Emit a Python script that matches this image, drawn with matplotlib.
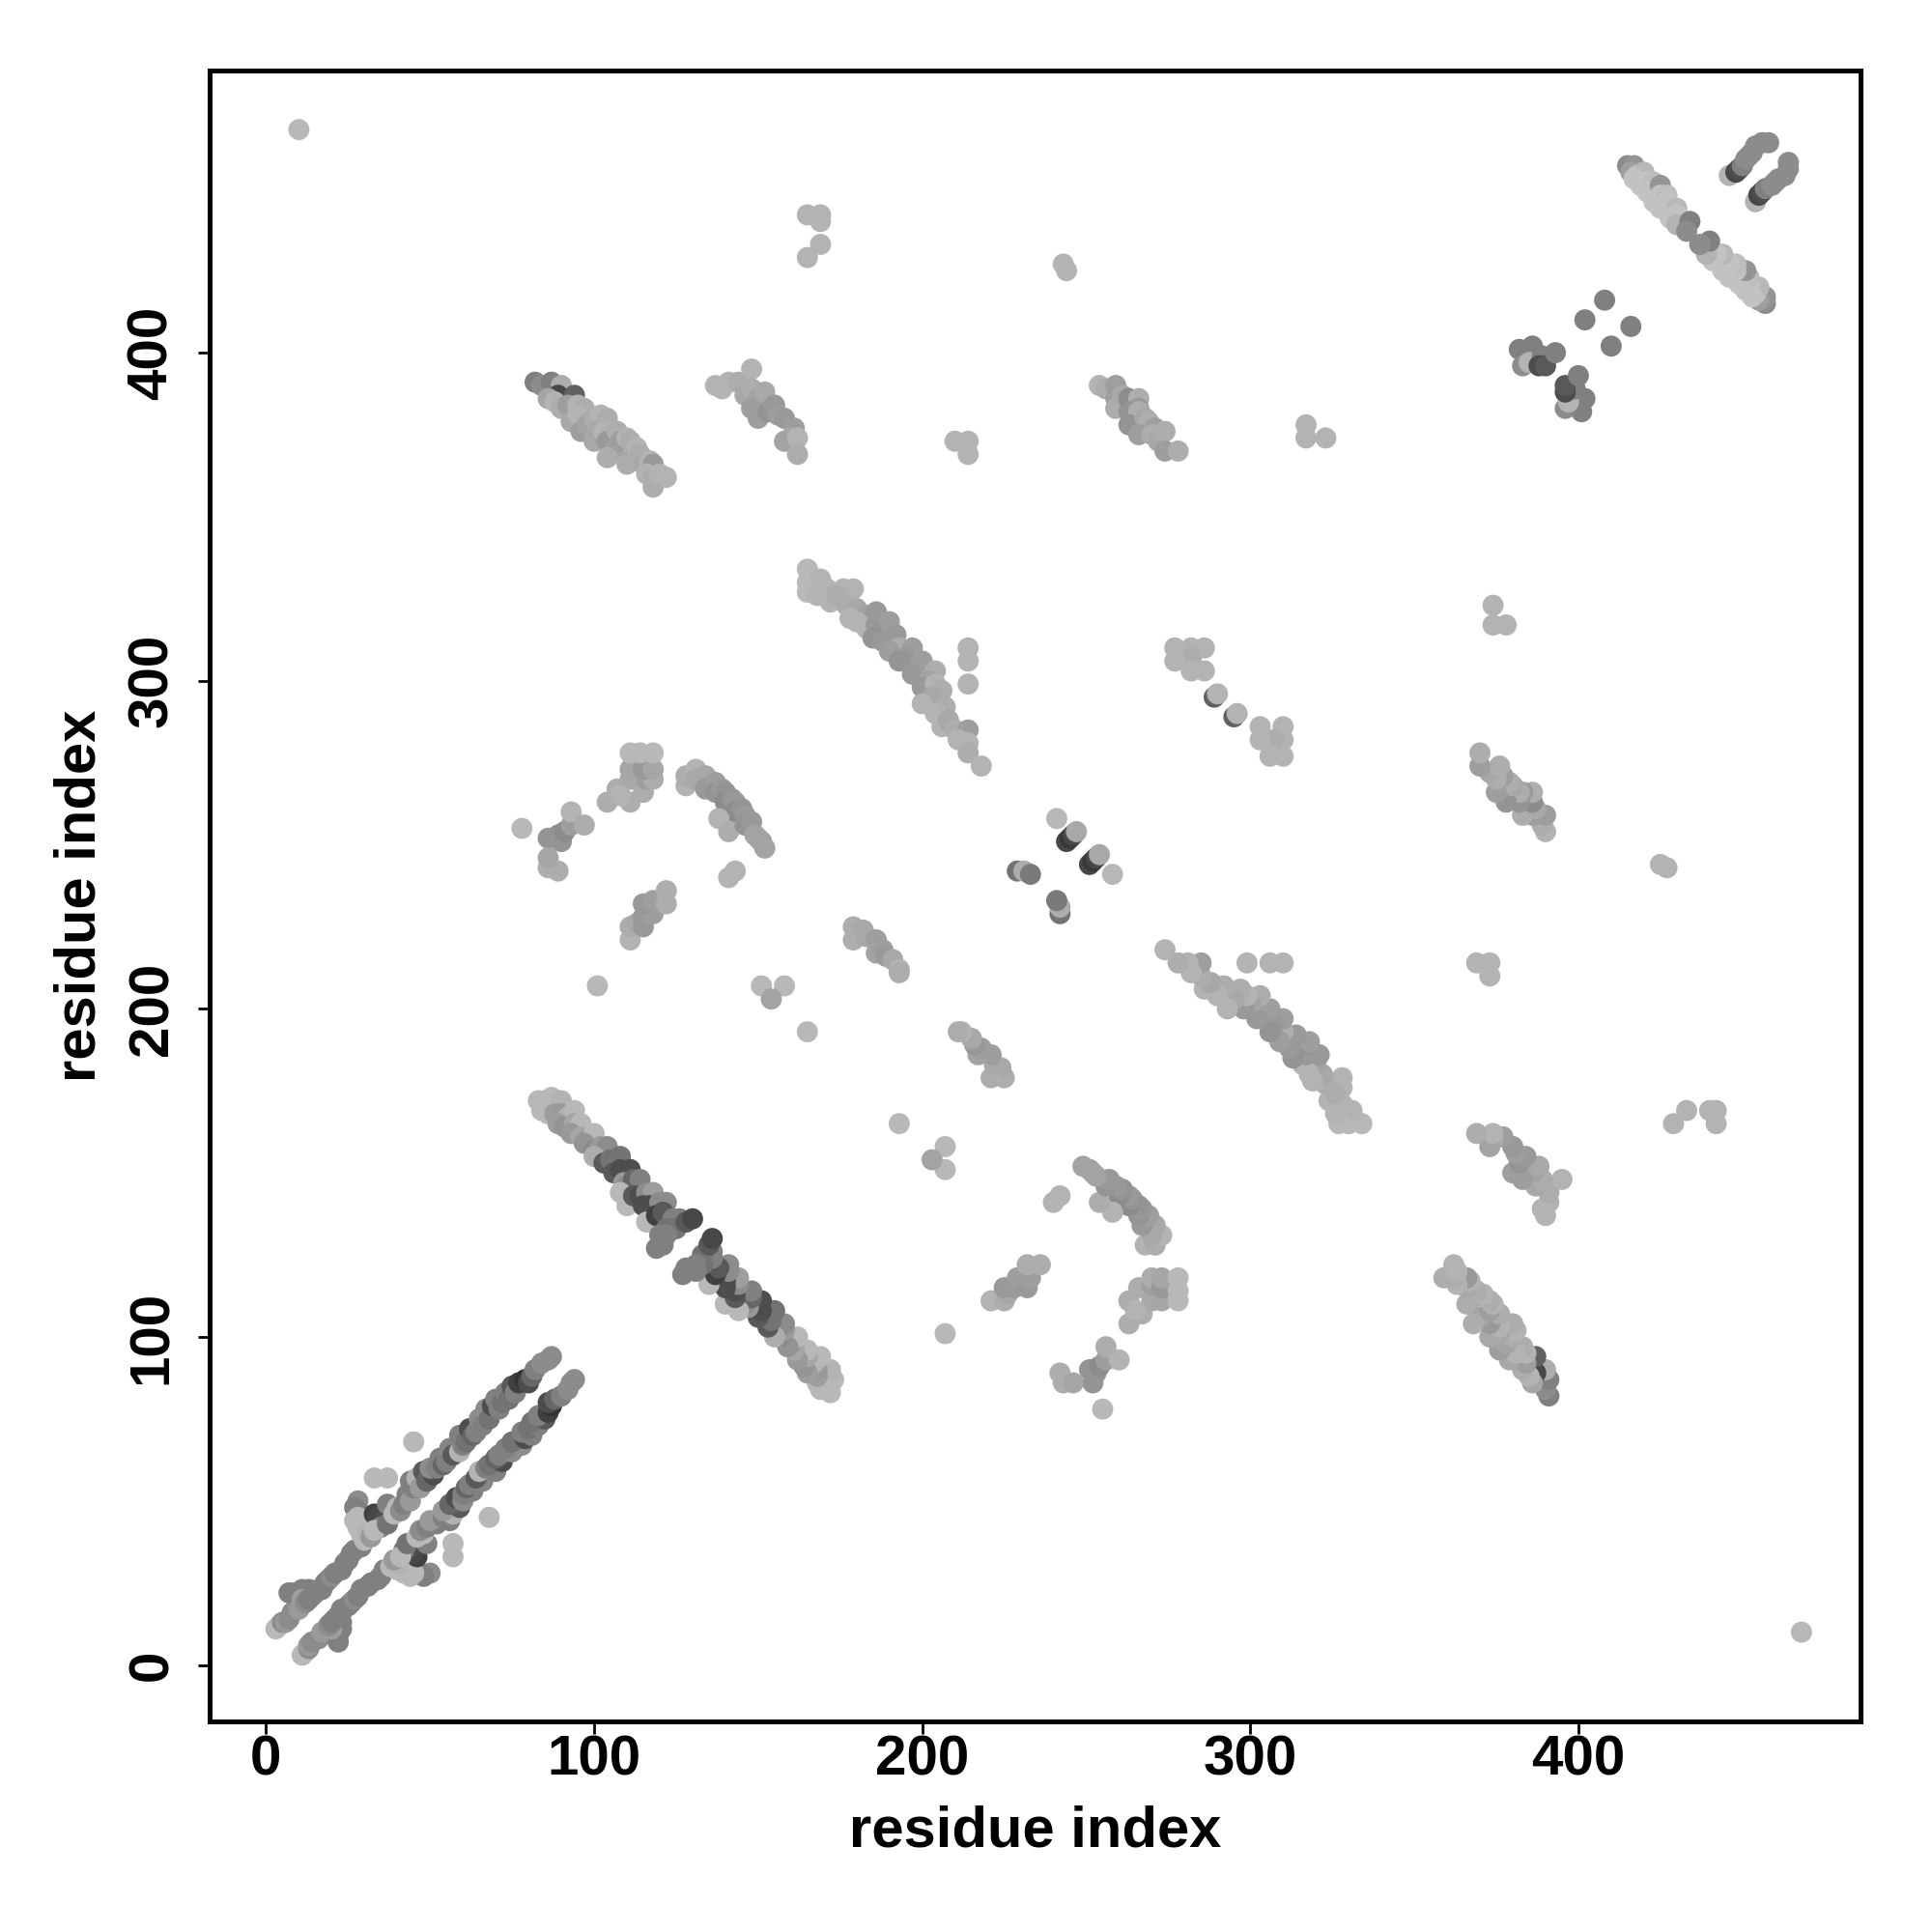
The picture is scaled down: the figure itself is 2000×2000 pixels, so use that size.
import matplotlib
matplotlib.use("Agg")
import matplotlib.pyplot as plt

# contacts as (i, j, grey) with i < j.
# the map is symmetric, so each contact is drawn at (i, j) and at (j, i)
corner = [(10, 468, .72)]

helix_n = [
    (3, 11, .72), (4, 12, .72), (5, 13, .55), (6, 13, .60), (7, 14, .55), (8, 16, .55),
    (9, 17, .55), (10, 17, .60), (7, 22, .50), (9, 22, .50), (11, 23, .50), (13, 23, .50),
    (15, 22, .50), (17, 23, .50), (11, 20, .62), (14, 21, .50), (12, 19, .55), (13, 20, .50),
    (16, 23, .50), (18, 25, .50), (19, 26, .50), (20, 27, .55), (21, 28, .50), (23, 29, .50),
    (24, 31, .50), (25, 32, .50), (26, 34, .50), (27, 35, .50), (29, 36, .50),
    (28, 50, .55), (27, 48, .50), (28, 47, .50), (28, 45, .72), (27, 44, .72), (28, 42, .72),
    (29, 41, .72), (29, 40, .72), (31, 41, .72), (30, 38, .72), (31, 40, .70), (32, 39, .60),
    (33, 46, .25), (34, 45, .28), (36, 44, .30), (35, 42, .50), (33, 41, .72), (37, 43, .45),
    (37, 49, .50), (39, 46, .72), (40, 48, .72), (41, 47, .55), (42, 49, .50), (43, 52, .50),
    (44, 50, .60), (44, 56, .50), (45, 54, .50), (46, 57, .70), (47, 54, .60), (48, 59, .35),
    (49, 56, .40), (51, 58, .30), (50, 60, .55), (52, 60, .50), (53, 63, .50), (54, 61, .40),
    (55, 62, .50), (56, 66, .52), (57, 64, .35), (59, 65, .70), (59, 70, .50), (60, 67, .50),
    (61, 68, .45), (62, 72, .30), (63, 70, .40), (64, 71, .50), (65, 75, .55), (66, 73, .50),
    (67, 78, .55), (68, 75, .45), (69, 79, .30), (70, 81, .50), (71, 78, .50), (72, 80, .45),
    (73, 83, .50), (74, 81, .45), (75, 85, .35), (76, 83, .50), (77, 86, .25), (79, 87, .20),
    (80, 86, .30), (81, 88, .40), (82, 90, .50), (84, 92, .55), (86, 93, .55), (87, 94, .55),
    (33, 57, .72), (37, 57, .72), (45, 68, .72),
]

sheet_127 = [
    (83, 172, .72), (85, 172, .72), (87, 173, .72), (90, 172, .70), (84, 169, .72),
    (86, 168, .72), (88, 168, .62), (90, 168, .60), (92, 167, .70), (94, 169, .72),
    (89, 165, .62), (91, 164, .58), (94, 165, .65), (96, 165, .72), (93, 162, .60),
    (96, 161, .65), (98, 160, .58), (100, 162, .72), (97, 159, .58), (100, 157, .55),
    (102, 158, .60), (104, 158, .55), (100, 155, .68), (103, 153, .35), (105, 154, .45),
    (108, 155, .45), (106, 150, .35), (108, 151, .30), (111, 151, .30), (109, 147, .60),
    (110, 146, .55), (112, 148, .40), (114, 148, .50), (108, 144, .72), (110, 140, .72),
    (112, 143, .35), (114, 143, .30), (116, 144, .55), (118, 144, .62), (115, 140, .30),
    (117, 140, .30), (120, 141, .55), (122, 141, .55), (116, 135, .72), (119, 137, .25),
    (121, 138, .35), (124, 136, .50), (126, 136, .50), (122, 133, .45), (125, 133, .45),
    (120, 131, .50), (122, 131, .50), (119, 127, .50), (121, 128, .50), (128, 135, .35),
    (130, 136, .28),
]

strand_c = [
    (82, 391, .50), (84, 390, .55), (87, 391, .50), (90, 390, .68), (89, 387, .28),
    (94, 387, .38), (86, 386, .65), (88, 385, .70), (90, 383, .68), (92, 384, .62),
    (95, 384, .70), (97, 383, .68), (93, 379, .66), (95, 381, .70), (96, 376, .62),
    (98, 378, .64), (100, 380, .68), (102, 381, .70), (104, 380, .68), (101, 376, .66),
    (100, 373, .66), (103, 376, .70), (104, 373, .60), (107, 376, .68), (106, 370, .64),
    (104, 368, .68), (108, 373, .62), (110, 374, .70), (111, 373, .68), (112, 368, .64),
    (110, 366, .68), (113, 371, .70), (114, 369, .68), (115, 366, .66), (117, 367, .70),
    (118, 366, .60), (116, 363, .70), (118, 362, .68), (118, 359, .68), (120, 363, .70),
    (122, 362, .70),
]

strand_d = [
    (137, 390, .70), (139, 389, .70), (141, 391, .70), (144, 391, .68), (148, 395, .70),
    (146, 387, .66), (148, 389, .68), (150, 386, .64), (148, 383, .62), (150, 380, .62),
    (152, 388, .66), (153, 382, .58), (155, 384, .60), (156, 381, .62), (158, 380, .60),
    (161, 377, .62), (160, 374, .66), (158, 373, .64), (162, 374, .70), (162, 369, .68),
]

strand_g = [
    (254, 390, .70), (256, 389, .68), (259, 390, .62), (259, 386, .62), (259, 383, .68),
    (261, 387, .66), (263, 386, .55), (266, 386, .68), (263, 382, .58), (266, 383, .60),
    (266, 382, .68), (263, 378, .58), (268, 380, .66), (269, 379, .68), (271, 377, .62),
    (266, 375, .62), (270, 375, .68), (272, 373, .66), (274, 376, .68), (274, 370, .62),
    (278, 370, .68),
]

patches = [
    (165, 442, .70), (169, 442, .70), (169, 440, .70), (169, 433, .70), (165, 429, .70),
    (243, 427, .70), (244, 425, .70),
    (317, 378, .70), (317, 374, .70), (323, 374, .70),
    (210, 373, .70), (214, 373, .70), (214, 369, .70),
    (101, 207, .72), (141, 240, .70), (143, 242, .70), (151, 207, .72), (158, 207, .72),
    (154, 203, .64), (165, 193, .72),
]

c_term = [
    (382, 401, .50), (386, 402, .50), (383, 396, .55), (385, 397, .70), (389, 399, .50),
    (388, 396, .30), (390, 396, .35), (393, 400, .50), (402, 410, .50), (408, 416, .50),
]

hairpin_436 = [
    (415, 457, .55), (417, 457, .58), (416, 455, .62), (418, 454, .76), (419, 453, .76),
    (420, 455, .72), (417, 453, .76), (420, 452, .76), (421, 452, .76), (419, 451, .76),
    (422, 450, .76), (423, 452, .74), (421, 449, .76), (423, 449, .76), (424, 448, .76),
    (425, 451, .58), (425, 448, .76), (423, 446, .76), (426, 446, .76), (427, 448, .74),
    (427, 446, .76), (425, 444, .76), (428, 444, .76), (429, 443, .76), (430, 444, .72),
    (428, 441, .76), (430, 442, .76), (431, 441, .76), (432, 440, .76), (433, 439, .72),
    (430, 439, .70), (434, 440, .50), (433, 437, .55),
]

helix_c = [
    (446, 454, .70), (448, 455, .28), (449, 456, .30), (450, 457, .50), (451, 459, .55),
    (452, 460, .55), (453, 461, .55), (454, 463, .55), (456, 464, .55), (458, 464, .55),
]

patch_k = [
    (78, 255, .72), (86, 252, .58), (89, 253, .58), (90, 251, .58), (91, 254, .55),
    (93, 256, .62), (93, 260, .70), (97, 256, .68), (86, 243, .68), (89, 242, .68),
    (86, 246, .65),
]

block_k = [
    (104, 263, .68), (107, 267, .68), (111, 263, .68), (115, 266, .68), (111, 270, .66),
    (116, 270, .62), (118, 270, .68), (111, 273, .65), (115, 273, .60), (118, 273, .65),
    (111, 278, .72), (114, 278, .72), (118, 278, .72), (108, 265, .70),
]

strand_k = [
    (111, 221, .70), (111, 225, .68), (113, 226, .66), (115, 225, .60), (115, 228, .60),
    (118, 229, .62), (115, 232, .60), (118, 233, .62), (122, 232, .68), (122, 236, .68),
]

strand_l = [
    (128, 268, .70), (128, 271, .68), (131, 273, .70), (131, 270, .66), (134, 271, .66),
    (134, 267, .60), (137, 269, .62), (137, 266, .58), (139, 267, .60), (140, 266, .58),
    (140, 263, .55), (142, 264, .58), (143, 263, .60), (143, 260, .55), (145, 261, .58),
    (138, 258, .70), (141, 254, .68), (146, 259, .60), (146, 256, .58), (148, 257, .60),
    (149, 253, .64), (151, 251, .60), (150, 252, .64), (152, 249, .64),
]

strand_m = [
    (165, 334, .72), (165, 330, .72), (169, 331, .70), (165, 327, .72), (168, 326, .70),
    (172, 324, .70), (171, 328, .70), (176, 328, .70), (179, 328, .70), (174, 326, .68),
    (177, 323, .68), (180, 322, .66), (183, 320, .64), (178, 319, .70), (180, 318, .70),
    (183, 316, .70), (186, 321, .60), (186, 317, .60), (189, 316, .58), (190, 318, .62),
    (185, 313, .58), (188, 312, .60), (192, 314, .60), (193, 310, .68), (197, 310, .62),
    (190, 309, .62), (195, 307, .60), (193, 306, .58), (200, 306, .62), (197, 302, .60),
    (204, 303, .68), (202, 300, .64), (200, 298, .60), (204, 299, .70), (206, 297, .68),
    (203, 295, .66), (200, 293, .70), (207, 292, .68), (204, 290, .70), (206, 286, .70),
    (208, 288, .66), (210, 285, .68), (214, 285, .62), (211, 282, .70), (214, 281, .70),
    (214, 278, .68), (218, 274, .70), (214, 310, .70), (214, 306, .70), (214, 299, .70),
]

patch_n = [
    (277, 310, .70), (282, 310, .70), (286, 310, .70), (282, 307, .68), (277, 306, .70),
    (282, 303, .70), (286, 303, .70), (289, 295, .38), (290, 296, .70),
]

center_n = [
    (229, 242, .45), (231, 242, .68), (233, 241, .48), (241, 258, .72),
    (244, 251, .28), (245, 252, .22), (246, 253, .28), (247, 254, .66),
]

strand_o = [
    (179, 225, .68), (182, 224, .66), (179, 221, .68), (183, 222, .66), (186, 221, .62),
    (186, 217, .64), (188, 218, .62), (189, 216, .60), (191, 215, .66), (193, 212, .70),
    (193, 211, .68),
]

blocks = [corner, helix_n, sheet_127, strand_c, strand_d, strand_g, patches, c_term,
          hairpin_436, helix_c, patch_k, block_k, strand_k, strand_l, strand_m,
          patch_n, center_n, strand_o]

xs, ys, cols = [], [], []
for block in blocks:
    for i, j, g in block:
        xs += [i, j]
        ys += [j, i]
        cols += [str(g), str(g)]

plt.rcParams['font.family'] = ['Liberation Sans', 'DejaVu Sans']
plt.rcParams['font.weight'] = 'bold'

fig = plt.figure(figsize=(10, 10), dpi=200)
ax = fig.add_axes([0.1085, 0.109, 0.8545, 0.8545])
ax.scatter(xs, ys, s=62, c=cols, edgecolors='none')

ax.set_xlim(-17.2, 486)
ax.set_ylim(-17.2, 486)
ticks = [0, 100, 200, 300, 400]
ax.set_xticks(ticks)
ax.set_yticks(ticks)
for sp in ax.spines.values():
    sp.set_linewidth(1.8)
ax.tick_params(direction='out', length=4.5, width=1.0, labelsize=21)
ax.tick_params(axis='x', pad=0.5)
ax.tick_params(axis='y', pad=7, labelrotation=90)
for t in ax.get_yticklabels():
    t.set_verticalalignment('center')

ax.set_xlabel('residue index', fontsize=21.5, fontweight='bold', va='baseline')
ax.xaxis.set_label_coords(0.5, -0.0759)
ax.set_ylabel('residue index', fontsize=21.5, fontweight='bold', va='baseline',
              ha='center', rotation_mode='anchor')
ax.yaxis.set_label_coords(-0.0696, 0.5)

fig.savefig('out.png', dpi=200)
